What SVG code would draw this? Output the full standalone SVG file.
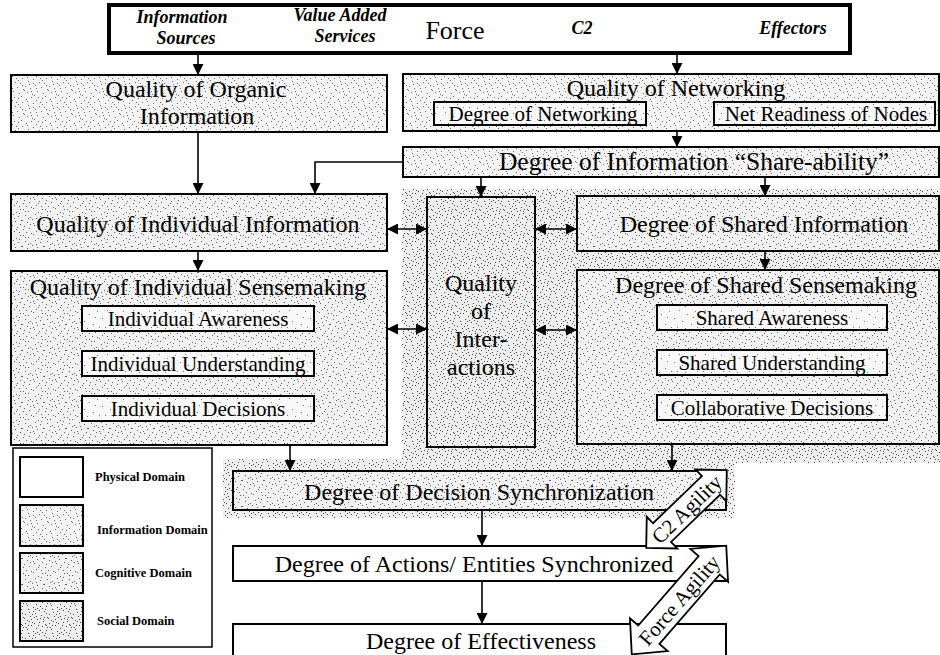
<svg xmlns="http://www.w3.org/2000/svg" width="940" height="655" viewBox="0 0 940 655">
  <defs>
    <style>
      .box { stroke: #000; stroke-width: 2; }
      .phys { fill: #fff; }
      .info { fill: url(#pInfo); }
      .cog { fill: url(#pCog); }
      .soc { fill: url(#pSoc); }
      .sub { fill: url(#pSub); stroke: #000; stroke-width: 2; }
      .t { font-family: "Liberation Serif", "Times New Roman", serif; fill: #000; text-anchor: middle; }
      .big { font-size: 24px; }
      .mid { font-size: 21px; }
      .hdr { font-size: 18px; font-weight: bold; font-style: italic; }
      .leg { font-family: "Liberation Serif", "Times New Roman", serif; font-size: 12.5px; font-weight: bold; fill: #000; }
      .conn { stroke: #000; stroke-width: 1.6; fill: none; }
      .agil { fill: #fff; stroke: #000; stroke-width: 1.8; stroke-linejoin: miter; }
    </style>
    <!-- stipple tiles for the domain shadings -->
    <pattern id="pInfo" width="24" height="24" patternUnits="userSpaceOnUse">
      <rect width="24" height="24" fill="#f3f3f3"/>
      <path fill="#6a6a6a" d="M2 3h1v1h-1zM7 1h1v1h-1zM12 4h1v1h-1zM18 2h1v1h-1zM22 6h1v1h-1zM4 9h1v1h-1zM9 7h1v1h-1zM15 10h1v1h-1zM20 11h1v1h-1zM1 14h1v1h-1zM6 16h1v1h-1zM11 13h1v1h-1zM17 15h1v1h-1zM23 17h1v1h-1zM3 20h1v1h-1zM8 22h1v1h-1zM13 19h1v1h-1zM19 21h1v1h-1zM21 0h1v1h-1zM10 23h1v1h-1zM16 6h1v1h-1zM5 12h1v1h-1zM14 1h1v1h-1zM0 18h1v1h-1zM22 13h1v1h-1zM7 19h1v1h-1zM18 8h1v1h-1zM12 16h1v1h-1zM3 5h1v1h-1zM9 11h1v1h-1z"/>
    </pattern>
    <pattern id="pCog" width="22" height="26" patternUnits="userSpaceOnUse">
      <rect width="22" height="26" fill="#f1f1f1"/>
      <path fill="#606060" d="M1 1h1v1h-1zM6 3h1v1h-1zM11 0h1v1h-1zM16 4h1v1h-1zM20 1h1v1h-1zM3 7h1v1h-1zM8 9h1v1h-1zM13 6h1v1h-1zM18 8h1v1h-1zM0 12h1v1h-1zM5 14h1v1h-1zM10 11h1v1h-1zM15 13h1v1h-1zM21 12h1v1h-1zM2 18h1v1h-1zM7 20h1v1h-1zM12 17h1v1h-1zM17 19h1v1h-1zM4 24h1v1h-1zM9 25h1v1h-1zM14 23h1v1h-1zM19 24h1v1h-1zM20 16h1v1h-1zM1 21h1v1h-1zM6 10h1v1h-1zM16 21h1v1h-1zM11 15h1v1h-1zM3 3h1v1h-1zM14 10h1v1h-1zM8 16h1v1h-1zM19 5h1v1h-1z"/>
    </pattern>
    <pattern id="pSoc" width="24" height="24" patternUnits="userSpaceOnUse">
      <rect width="24" height="24" fill="#eeeeee"/>
      <path fill="#4a4a4a" d="M2 3h1v1h-1zM7 1h1v1h-1zM12 4h1v1h-1zM18 2h1v1h-1zM22 6h1v1h-1zM4 9h1v1h-1zM9 7h1v1h-1zM15 10h1v1h-1zM20 11h1v1h-1zM1 14h1v1h-1zM6 16h1v1h-1zM11 13h1v1h-1zM17 15h1v1h-1zM23 17h1v1h-1zM3 20h1v1h-1zM8 22h1v1h-1zM13 19h1v1h-1zM19 21h1v1h-1zM21 0h1v1h-1zM10 23h1v1h-1zM16 6h1v1h-1zM5 12h1v1h-1zM14 1h1v1h-1zM0 18h1v1h-1zM22 13h1v1h-1zM7 19h1v1h-1zM18 8h1v1h-1zM12 16h1v1h-1zM3 5h1v1h-1zM9 11h1v1h-1zM15 22h1v1h-1zM20 17h1v1h-1zM1 23h1v1h-1zM11 9h1v1h-1zM23 3h1v1h-1zM4 1h1v1h-1zM13 8h1v1h-1zM21 9h1v1h-1zM10 17h1v1h-1zM19 19h1v1h-1zM5 21h1v1h-1zM16 18h1v1h-1zM8 14h1v1h-1zM22 1h1v1h-1z"/>
    </pattern>
    <pattern id="pSub" width="26" height="22" patternUnits="userSpaceOnUse">
      <rect width="26" height="22" fill="#f8f8f8"/>
      <path fill="#777" d="M3 2h1v1h-1zM11 6h1v1h-1zM19 3h1v1h-1zM24 10h1v1h-1zM6 13h1v1h-1zM15 16h1v1h-1zM21 19h1v1h-1zM1 19h1v1h-1zM9 20h1v1h-1zM17 9h1v1h-1z"/>
    </pattern>
    <marker id="ah" viewBox="0 0 10 10" refX="10" refY="5" markerWidth="12" markerHeight="11" markerUnits="userSpaceOnUse" orient="auto-start-reverse">
      <path d="M0 0L10 5L0 10z" fill="#000"/>
    </marker>
  </defs>

  <rect width="940" height="655" fill="#fff"/>

  <!-- social domain backdrop -->
  <g id="social-domain">
    <polygon class="soc" points="402,189 940,189 940,463 735,463 735,518 223,518 223,459 402,459"/>
  </g>

  <!-- top bar: force elements -->
  <g id="force-elements">
    <rect x="109" y="5" width="741" height="48" fill="#fff" stroke="#000" stroke-width="4"/>
    <text class="t hdr" x="182" y="23">Information</text>
    <text class="t hdr" x="186" y="44">Sources</text>
    <text class="t hdr" x="340" y="21">Value Added</text>
    <text class="t hdr" x="345" y="42">Services</text>
    <text class="t" x="455" y="39" font-size="26">Force</text>
    <text class="t hdr" x="582" y="34">C2</text>
    <text class="t hdr" x="793" y="34">Effectors</text>
  </g>

  <g id="organic-info">
    <rect class="box info" x="11" y="75" width="376" height="57"/>
    <text class="t big" x="196" y="97">Quality of Organic</text>
    <text class="t big" x="197" y="124">Information</text>
  </g>

  <g id="networking">
    <rect class="box info" x="403" y="74" width="536" height="57"/>
    <text class="t big" x="676" y="96">Quality of Networking</text>
    <rect class="sub" x="434" y="102" width="212" height="23"/>
    <text class="t mid" x="543" y="121">Degree of Networking</text>
    <rect class="sub" x="714" y="102" width="221" height="23"/>
    <text class="t mid" x="826" y="121">Net Readiness of Nodes</text>
  </g>

  <g id="share-ability">
    <rect class="box info" x="403" y="147" width="536" height="30"/>
    <text class="t" x="694" y="170" font-size="25.5">Degree of Information “Share-ability”</text>
  </g>

  <g id="individual-info">
    <rect class="box cog" x="11" y="194" width="376" height="57"/>
    <text class="t big" x="198" y="232">Quality of Individual Information</text>
  </g>

  <g id="individual-sensemaking">
    <rect class="box cog" x="11" y="271" width="376" height="174"/>
    <text class="t big" x="198" y="295">Quality of Individual Sensemaking</text>
    <rect class="sub" x="82" y="306" width="232" height="25"/>
    <text class="t mid" x="198" y="326">Individual Awareness</text>
    <rect class="sub" x="82" y="351" width="232" height="25"/>
    <text class="t mid" x="198" y="371">Individual Understanding</text>
    <rect class="sub" x="82" y="396" width="232" height="25"/>
    <text class="t mid" x="198" y="416">Individual Decisions</text>
  </g>

  <g id="interactions">
    <rect class="box soc" x="427" y="197" width="108" height="250"/>
    <text class="t big" x="481" y="291">Quality</text>
    <text class="t big" x="481" y="319">of</text>
    <text class="t big" x="481" y="347">Inter-</text>
    <text class="t big" x="481" y="375">actions</text>
  </g>

  <g id="shared-info">
    <rect class="box cog" x="577" y="196" width="362" height="55"/>
    <text class="t big" x="764" y="232">Degree of Shared Information</text>
  </g>

  <g id="shared-sensemaking">
    <rect class="box cog" x="577" y="270" width="362" height="174"/>
    <text class="t big" x="766" y="293">Degree of Shared Sensemaking</text>
    <rect class="sub" x="657" y="305" width="230" height="25"/>
    <text class="t mid" x="772" y="325">Shared Awareness</text>
    <rect class="sub" x="657" y="350" width="230" height="25"/>
    <text class="t mid" x="772" y="370">Shared Understanding</text>
    <rect class="sub" x="657" y="395" width="230" height="25"/>
    <text class="t mid" x="772" y="415">Collaborative Decisions</text>
  </g>

  <g id="decision-sync">
    <rect class="box cog" x="233" y="471" width="493" height="39"/>
    <text class="t big" x="479" y="500">Degree of Decision Synchronization</text>
  </g>

  <g id="actions-sync">
    <rect class="box phys" x="233" y="546" width="493" height="35"/>
    <text class="t big" x="474" y="572">Degree of Actions/ Entities Synchronized</text>
  </g>

  <g id="effectiveness">
    <rect class="box phys" x="233" y="624" width="493" height="45"/>
    <text class="t big" x="481" y="649">Degree of Effectiveness</text>
  </g>

  <!-- legend -->
  <g id="legend">
    <rect x="13" y="448" width="199" height="199" fill="#fff" stroke="#000" stroke-width="1.5"/>
    <rect class="box phys" x="20" y="457" width="63" height="40"/>
    <text class="leg" x="95" y="481">Physical Domain</text>
    <rect class="box info" x="20" y="505" width="63" height="41"/>
    <text class="leg" x="97" y="534">Information Domain</text>
    <rect class="box cog" x="20" y="553" width="63" height="40"/>
    <text class="leg" x="95" y="577">Cognitive Domain</text>
    <rect class="box soc" x="20" y="601" width="63" height="40"/>
    <text class="leg" x="97" y="625">Social Domain</text>
  </g>

  <!-- connectors -->
  <g id="connectors">
    <line class="conn" x1="198" y1="53" x2="198" y2="75" marker-end="url(#ah)"/>
    <line class="conn" x1="677" y1="53" x2="677" y2="74" marker-end="url(#ah)"/>
    <line class="conn" x1="677" y1="131" x2="677" y2="147" marker-end="url(#ah)"/>
    <line class="conn" x1="198" y1="132" x2="198" y2="194" marker-end="url(#ah)"/>
    <polyline class="conn" points="403,162 315,162 315,194" marker-end="url(#ah)"/>
    <line class="conn" x1="481" y1="177" x2="481" y2="197" marker-end="url(#ah)"/>
    <line class="conn" x1="765" y1="177" x2="765" y2="196" marker-end="url(#ah)"/>
    <line class="conn" x1="198" y1="251" x2="198" y2="271" marker-end="url(#ah)"/>
    <line class="conn" x1="765" y1="251" x2="765" y2="270" marker-end="url(#ah)"/>
    <line class="conn" x1="387" y1="229" x2="427" y2="229" marker-start="url(#ah)" marker-end="url(#ah)"/>
    <line class="conn" x1="387" y1="329" x2="427" y2="329" marker-start="url(#ah)" marker-end="url(#ah)"/>
    <line class="conn" x1="535" y1="229" x2="577" y2="229" marker-start="url(#ah)" marker-end="url(#ah)"/>
    <line class="conn" x1="535" y1="330" x2="577" y2="330" marker-start="url(#ah)" marker-end="url(#ah)"/>
    <line class="conn" x1="290" y1="445" x2="290" y2="471" marker-end="url(#ah)"/>
    <line class="conn" x1="672" y1="444" x2="672" y2="471" marker-end="url(#ah)"/>
    <line class="conn" x1="482" y1="510" x2="482" y2="546" marker-end="url(#ah)"/>
    <line class="conn" x1="482" y1="581" x2="482" y2="624" marker-end="url(#ah)"/>
  </g>

  <!-- agility block arrows -->
  <g id="c2-agility" transform="translate(686.5,509) rotate(-44)">
    <polygon class="agil" points="-56,0 -34,-22 -34,-13 34,-13 34,-22 56,0 34,22 34,13 -34,13 -34,22"/>
    <text class="t" x="0" y="7.5" font-size="21">C2 Agility</text>
  </g>
  <g id="force-agility" transform="translate(679,600) rotate(-49)">
    <polygon class="agil" points="-72,0 -46,-25 -46,-14 46,-14 46,-25 72,0 46,25 46,14 -46,14 -46,25"/>
    <text class="t" x="0" y="7.5" font-size="21">Force Agility</text>
  </g>
</svg>
